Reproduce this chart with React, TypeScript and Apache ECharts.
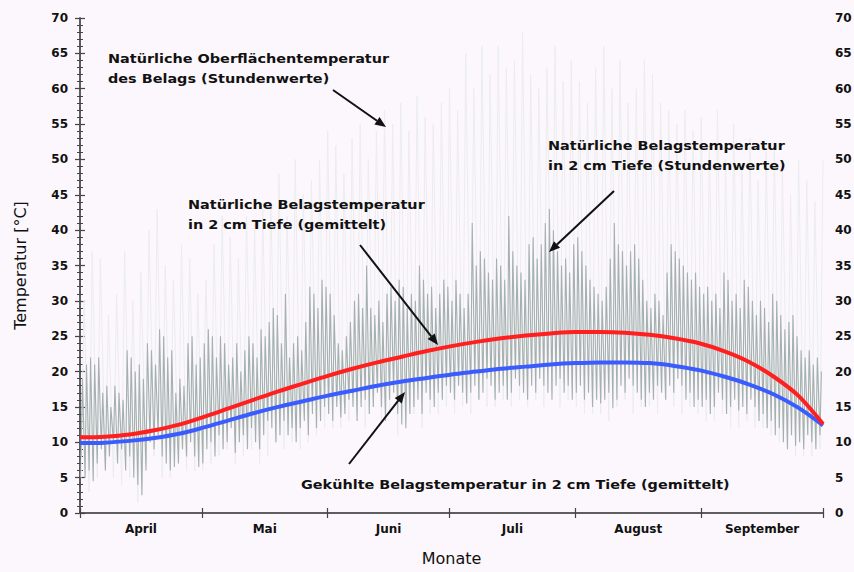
import React, { useEffect, useRef } from "react";
import * as echarts from "echarts";

// Month axis (days since 1 April)
const monthNames = ["April", "Mai", "Juni", "Juli", "August", "September"];
const monthStartDays = [0, 30, 61, 91, 122, 153, 183];
const yTicks = [0, 70, 5];

// Natürliche Belagstemperatur in 2 cm Tiefe (Stundenwerte) — daily max / min, day 0..182
const depthDailyMax = [
  19, 21, 22, 21, 22, 17, 18, 15, 18, 17, 16, 23, 22, 20, 21, 19, 24, 23, 21, 26, 25, 22, 23, 17, 19, 18, 24, 25, 21, 22,
  24, 26, 25, 22, 25, 24, 21, 22, 24, 20, 23, 25, 24, 22, 26, 25, 27, 29, 28, 24, 31, 22, 24, 25, 23, 27, 32, 31, 29, 33, 32,
  31, 28, 24, 23, 25, 27, 30, 31, 29, 35, 29, 28, 30, 27, 31, 32, 30, 33, 32, 29, 31, 30, 35, 33, 31, 32, 29, 31, 33, 32,
  30, 33, 31, 29, 31, 41, 35, 37, 36, 34, 33, 36, 35, 33, 42, 37, 35, 34, 33, 38, 39, 36, 38, 41, 43, 40, 37, 35, 36, 34, 38,
  39, 37, 35, 33, 32, 31, 30, 32, 36, 41, 38, 37, 35, 37, 38, 36, 33, 30, 29, 31, 30, 28, 34, 38, 37, 36, 35, 34, 33, 34, 32,
  31, 32, 30, 31, 29, 34, 33, 30, 31, 29, 33, 32, 30, 28, 30, 29, 27, 31, 30, 28, 26, 27, 28, 25, 23, 22, 23, 21, 22, 20,
];
const depthDailyMin = [
  8, 5, 6, 4.5, 7, 9, 6, 8, 10, 7, 9, 6, 8, 5, 4, 2.5, 6, 10, 9, 11, 8, 7, 6, 6.5, 7, 9, 8, 10, 8, 6.5,
  7, 9, 10, 8, 11, 9, 10, 12, 8.5, 10, 11, 9, 12, 10, 9, 11, 13, 12, 10, 11, 13, 11, 12, 10, 12, 13, 11, 14, 12, 13, 15,
  14, 13, 15, 13.5, 14, 16, 15, 13, 15, 16, 14, 15, 17, 15, 13, 16, 17, 14, 12.5, 12, 14, 15, 16, 14, 17, 16, 15, 17, 16, 18,
  17, 16, 18, 17, 15.5, 17, 18, 16, 17, 19, 18, 16, 17, 18, 16, 17, 19, 18, 17, 16, 18, 17, 19, 18, 17, 16, 18, 19, 17, 18, 16,
  17, 18, 16, 17, 15, 16, 15.5, 16, 17, 14.8, 16, 18, 17, 19, 18, 17, 16, 15, 17, 16, 18, 17, 16, 18, 17, 19, 18, 16, 17, 15, 16,
  15, 16, 14, 15, 17, 16, 14, 15, 16, 14.5, 15, 14, 16, 15, 13, 14, 12, 13, 11, 12, 10, 9, 11, 9.5, 10, 9, 11, 10, 9, 11,
];

// Natürliche Oberflächentemperatur des Belags (Stundenwerte) — max / min per 2 days, day 0..182
const surfaceMax = [
  30, 37, 36, 28, 31, 37, 30, 34, 40, 43, 35, 33, 38, 36, 31,
  33, 38, 42, 39, 36, 42, 40, 43, 44, 48, 42, 50, 45, 47, 50, 54,
  52, 48, 53, 55, 50, 54, 57, 55, 58, 54, 59, 56, 55, 58, 60,
  57, 65, 60, 66, 62, 66, 63, 64, 68, 62, 60, 63, 66, 61, 64,
  61, 58, 63, 66, 60, 64, 58, 60, 64, 62, 58, 57, 55, 57, 54, 56,
  52, 57, 50, 55, 49, 53, 47, 51, 52, 49, 45, 50, 47, 44, 50,
];
const surfaceMin = [
  5, 3, 5, 6, 5, 4, 5, 1.5, 7, 8, 5, 5, 7, 6, 6,
  6, 7, 8, 9, 7, 8, 9, 7, 8, 10, 9, 10, 9, 10, 11, 12,
  12, 12, 13, 14, 12, 15, 13, 14, 11, 13, 14, 12, 14, 14, 15,
  14, 15, 14, 16, 15, 15, 16, 15, 16, 15, 16, 15, 17, 15, 16,
  15, 14, 14, 14, 13, 15, 16, 14, 15, 15, 14, 16, 15, 14, 15, 14,
  13, 13, 14, 12, 12, 13, 12, 12, 11, 10, 9, 8, 8, 8, 9,
];

// Gemittelte Verläufe
const meanDays = [
  0, 6.1, 12.2, 18.3, 24.4, 30.5, 36.6, 42.7, 48.8, 54.9, 61, 67.1, 73.2, 79.3, 85.4, 91.5,
  97.6, 103.7, 109.8, 115.9, 122, 128.1, 134.2, 140.3, 146.4, 152.5, 158.6, 164.7, 170.8, 176.9, 183,
];
const naturalMean = [
  10.7, 10.8, 11.1, 11.7, 12.5, 13.6, 14.8, 16.0, 17.2, 18.3, 19.4, 20.4, 21.3, 22.1, 22.9, 23.6,
  24.2, 24.7, 25.1, 25.4, 25.6, 25.6, 25.5, 25.2, 24.7, 24.0, 22.9, 21.4, 19.3, 16.6, 12.6,
];
const cooledMean = [
  9.9, 9.95, 10.2, 10.6, 11.2, 12.1, 13.1, 14.1, 15.0, 15.8, 16.6, 17.3, 18.0, 18.6, 19.1, 19.6,
  20.0, 20.4, 20.7, 21.0, 21.2, 21.3, 21.3, 21.2, 20.8, 20.2, 19.3, 18.2, 16.8, 14.9, 12.4,
];

const FONT = '"DejaVu Sans", "Liberation Sans", sans-serif';

function arrow(x1: number, y1: number, x2: number, y2: number) {
  const dx = x2 - x1;
  const dy = y2 - y1;
  const len = Math.sqrt(dx * dx + dy * dy);
  const ux = dx / len;
  const uy = dy / len;
  const hl = 11;
  const hw = 4.5;
  const bx = x2 - ux * hl;
  const by = y2 - uy * hl;
  return [
    { type: "line", shape: { x1, y1, x2: bx, y2: by }, style: { stroke: "#111", lineWidth: 2 }, z: 100 },
    {
      type: "polygon",
      shape: { points: [[x2, y2], [bx - uy * hw, by + ux * hw], [bx + uy * hw, by - ux * hw]] },
      style: { fill: "#111" },
      z: 100,
    },
  ];
}

function label(x: number, y: number, text: string) {
  return {
    type: "text",
    x,
    y,
    scaleX: 1.11,
    z: 100,
    style: {
      text,
      font: `bold 13px ${FONT}`,
      fill: "#111",
      lineHeight: 20,
      verticalAlign: "top",
      align: "left",
    },
  };
}

export default function App() {
  const ref = useRef<HTMLDivElement>(null);
  useEffect(() => {
    if (!ref.current) return;
    const chart = echarts.init(ref.current, null, { renderer: "svg" });

    const depthData: number[][] = [];
    depthDailyMax.forEach((mx, d) => {
      depthData.push([d + 0.25, depthDailyMin[d]]);
      depthData.push([d + 0.6, mx]);
    });
    const surfaceData: number[][] = [];
    surfaceMax.forEach((mx, k) => {
      surfaceData.push([2 * k + 0.25, surfaceMin[k]]);
      surfaceData.push([2 * k + 1.0, mx]);
    });
    const mids = monthNames.map((_, i) => (monthStartDays[i] + monthStartDays[i + 1]) / 2);

    const axisLineStyle = { color: "#555", width: 1.5 };
    const yAxisCommon = {
      type: "value",
      min: yTicks[0],
      max: yTicks[1],
      interval: yTicks[2],
      axisLine: { show: true, lineStyle: axisLineStyle },
      axisTick: { show: true, length: 5, lineStyle: { color: "#444", width: 1.2 } },
      minorTick: { show: true, splitNumber: 5, length: 3, lineStyle: { color: "#444", width: 1 } },
      splitLine: { show: false },
      axisLabel: { fontFamily: FONT, fontWeight: "bold", fontSize: 12, color: "#111", margin: 12 },
    };

    chart.setOption({
      animation: false,
      backgroundColor: "transparent",
      grid: { left: 80, right: 31, top: 18, bottom: 59, containLabel: false, outerBoundsMode: "none" },
      xAxis: [
        {
          type: "value",
          min: 0,
          max: 183,
          position: "bottom",
          axisLine: { show: true, lineStyle: axisLineStyle },
          axisTick: { show: true, length: 5, customValues: monthStartDays, lineStyle: { color: "#444", width: 1.2 } },
          splitLine: { show: false },
          axisLabel: {
            customValues: mids,
            fontFamily: FONT,
            fontWeight: "bold",
            fontSize: 12,
            color: "#111",
            margin: 10,
            formatter: (v: number) => {
              const i = mids.findIndex((m) => Math.abs(m - v) < 0.01);
              return i >= 0 ? monthNames[i] : "";
            },
          },
          name: "Monate",
          nameLocation: "middle",
          nameGap: 37,
          nameTextStyle: { fontFamily: FONT, fontSize: 16, color: "#111" },
        },
        {
          type: "value",
          min: 0,
          max: 183,
          position: "top",
          axisLine: { show: true, lineStyle: axisLineStyle },
          axisTick: { show: true, length: 5, customValues: monthStartDays, lineStyle: { color: "#444", width: 1.2 } },
          splitLine: { show: false },
          axisLabel: { show: false },
        },
      ],
      yAxis: [
        {
          ...yAxisCommon,
          position: "left",
          name: "Temperatur [°C]",
          nameLocation: "middle",
          nameGap: 52,
          nameTextStyle: { fontFamily: FONT, fontSize: 16, color: "#111" },
        },
        { ...yAxisCommon, position: "right" },
      ],
      series: [
        {
          name: "Natürliche Oberflächentemperatur des Belags (Stundenwerte)",
          type: "line",
          data: surfaceData,
          showSymbol: false,
          lineStyle: { color: "#eaeded", width: 1 },
          z: 1,
        },
        {
          name: "Natürliche Belagstemperatur in 2 cm Tiefe (Stundenwerte)",
          type: "line",
          data: depthData,
          showSymbol: false,
          lineStyle: { color: "#a4b1af", width: 1.1 },
          z: 2,
        },
        {
          name: "Gekühlte Belagstemperatur in 2 cm Tiefe (gemittelt)",
          type: "line",
          data: meanDays.map((d, i) => [d, cooledMean[i]]),
          smooth: 0.3,
          showSymbol: false,
          lineStyle: { color: "#3a5cff", width: 4 },
          z: 3,
        },
        {
          name: "Natürliche Belagstemperatur in 2 cm Tiefe (gemittelt)",
          type: "line",
          data: meanDays.map((d, i) => [d, naturalMean[i]]),
          smooth: 0.3,
          showSymbol: false,
          lineStyle: { color: "#ff1f1f", width: 4 },
          z: 4,
        },
      ],
      graphic: [
        label(108, 48, "Natürliche Oberflächentemperatur\ndes Belags (Stundenwerte)"),
        label(548, 135, "Natürliche Belagstemperatur\nin 2 cm Tiefe (Stundenwerte)"),
        label(188, 194, "Natürliche Belagstemperatur\nin 2 cm Tiefe (gemittelt)"),
        label(301, 474, "Gekühlte Belagstemperatur in 2 cm Tiefe (gemittelt)"),
        ...arrow(333, 90, 386, 127),
        ...arrow(614, 191, 549, 252),
        ...arrow(360, 245, 438, 345),
        ...arrow(349, 464, 405, 392),
      ],
    });
    return () => chart.dispose();
  }, []);

  return (
    <div
      style={{ position: "fixed", left: 0, top: 0, width: 854, height: 572, background: "#fcf7fc" }}
    >
      <div ref={ref} style={{ width: 854, height: 572 }} />
    </div>
  );
}
